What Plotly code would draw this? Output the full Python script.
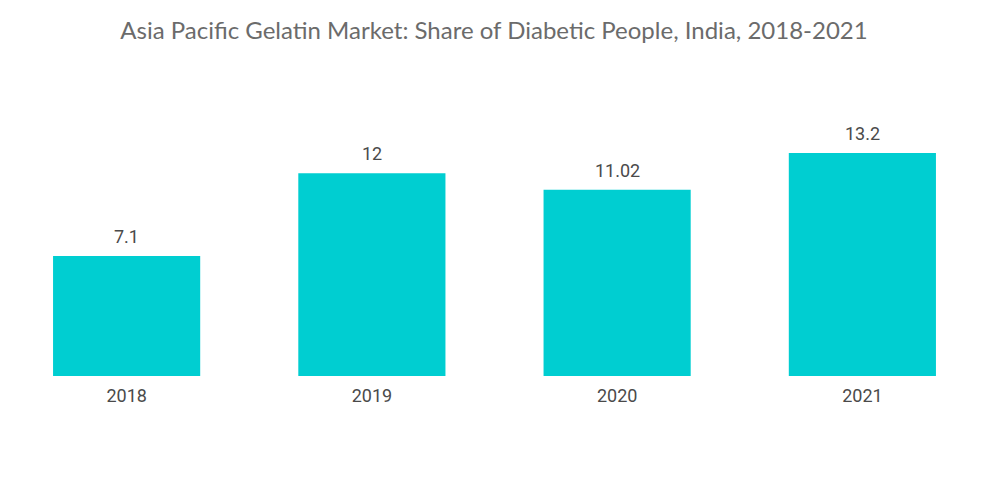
import plotly.graph_objects as go

categories = ["2018", "2019", "2020", "2021"]
values = [7.1, 12, 11.02, 13.2]
value_labels = ["7.1", "12", "11.02", "13.2"]

fig = go.Figure(go.Bar(
    x=categories, y=values,
    marker=dict(color="#00CED1", line=dict(width=0)),
    hoverinfo="x+y",
))
for i, (v, t) in enumerate(zip(values, value_labels)):
    fig.add_annotation(x=i, y=v, text=t, showarrow=False,
                       xref="x", yref="y", yanchor="bottom", yshift=7,
                       font=dict(family="Roboto", size=18, color="#4a4a4a"))

fig.update_layout(
    width=1000, height=504,
    paper_bgcolor="white", plot_bgcolor="white",
    margin=dict(l=4, r=15, t=100, b=128),
    bargap=0.40,
    showlegend=False,
    title=dict(text="Asia Pacific Gelatin Market: Share of Diabetic People, India, 2018-2021",
               x=0.494, xanchor="center", y=0.94, yanchor="middle",
               font=dict(family="Lato", size=24, color="#6b6b6b")),
    xaxis=dict(showgrid=False, showline=False, ticks="", type="category",
               categoryorder="array", categoryarray=categories,
               range=[-0.5, len(categories) - 0.5],
               ticklabelstandoff=7,
               tickfont=dict(family="Roboto", size=18, color="#4a4a4a")),
    yaxis=dict(visible=False, range=[0, 16.33]),
)
fig.write_html("out.html", config={"displayModeBar": False},
               post_script="document.body.style.margin='0';document.body.style.padding='0';")
